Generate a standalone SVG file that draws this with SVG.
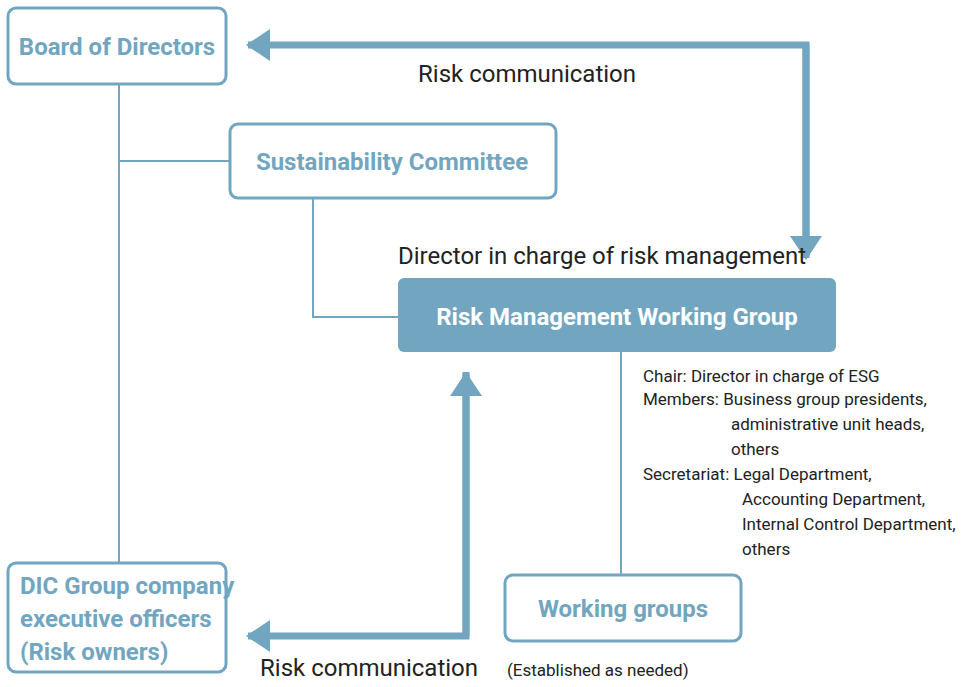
<svg xmlns="http://www.w3.org/2000/svg" width="980" height="687" viewBox="0 0 980 687">
<style>
.box{fill:#fff;stroke:#72a6c0;stroke-width:3}
.bt{font-family:Roboto,"Liberation Sans",sans-serif;font-weight:bold;font-size:24px;fill:#72a6c0}
.t{font-family:Roboto,"Liberation Sans",sans-serif;font-size:24px;fill:#222}
.s{font-family:Roboto,"Liberation Sans",sans-serif;font-size:17px;fill:#222}
.thin{fill:none;stroke:#72a6c0;stroke-width:2}
.thick{fill:none;stroke:#72a6c0;stroke-width:7}
</style>
<defs><marker id="ah" markerUnits="userSpaceOnUse" markerWidth="24" markerHeight="32" refX="22" refY="16" orient="auto"><path d="M0,0 L24,16 L0,32 Z" fill="#72a6c0"/></marker></defs>
<g id="connectors">
<path class="thin" d="M119,84 V563 M119,161 H230 M313,198 V317 H398 M621,352 V575"/>
<path class="thick" d="M806,256 V45 H248" marker-end="url(#ah)"/>
<path class="thick" d="M806,45 V258" marker-end="url(#ah)"/>
<path class="thick" d="M466,372 V636 H248" marker-end="url(#ah)"/>
<path class="thick" d="M466,636 V374" marker-end="url(#ah)"/>
</g>
<g id="board"><rect class="box" x="8" y="8" width="218" height="76" rx="8"/><text class="bt" x="117" y="55" text-anchor="middle">Board of Directors</text></g>
<g id="sustainability"><rect class="box" x="230" y="124" width="326" height="74" rx="8"/><text class="bt" x="392" y="170" text-anchor="middle">Sustainability Committee</text></g>
<g id="rmwg"><rect x="398" y="278" width="438" height="74" rx="6" fill="#72a6c0"/><text class="bt" x="617" y="325" text-anchor="middle" fill="#fff" style="fill:#fff">Risk Management Working Group</text></g>
<g id="dic"><rect class="box" x="8" y="563" width="218" height="109" rx="8"/><text class="bt" x="20" y="594">DIC Group company</text><text class="bt" x="20" y="627">executive officers</text><text class="bt" x="20" y="660">(Risk owners)</text></g>
<g id="working"><rect class="box" x="505" y="575" width="236" height="66" rx="8"/><text class="bt" x="623" y="617" text-anchor="middle">Working groups</text></g>
<text class="t" x="418" y="82">Risk communication</text>
<text class="t" x="398" y="264">Director in charge of risk management</text>
<text class="t" x="260" y="676">Risk communication</text>
<text class="s" x="507" y="676">(Established as needed)</text>
<g class="s">
<text class="s" x="643" y="382">Chair: Director in charge of ESG</text>
<text class="s" x="643" y="405">Members: Business group presidents,</text>
<text class="s" x="731" y="430">administrative unit heads,</text>
<text class="s" x="731" y="455">others</text>
<text class="s" x="643" y="480">Secretariat: Legal Department,</text>
<text class="s" x="742" y="505">Accounting Department,</text>
<text class="s" x="742" y="530">Internal Control Department,</text>
<text class="s" x="742" y="555">others</text>
</g>
</svg>
